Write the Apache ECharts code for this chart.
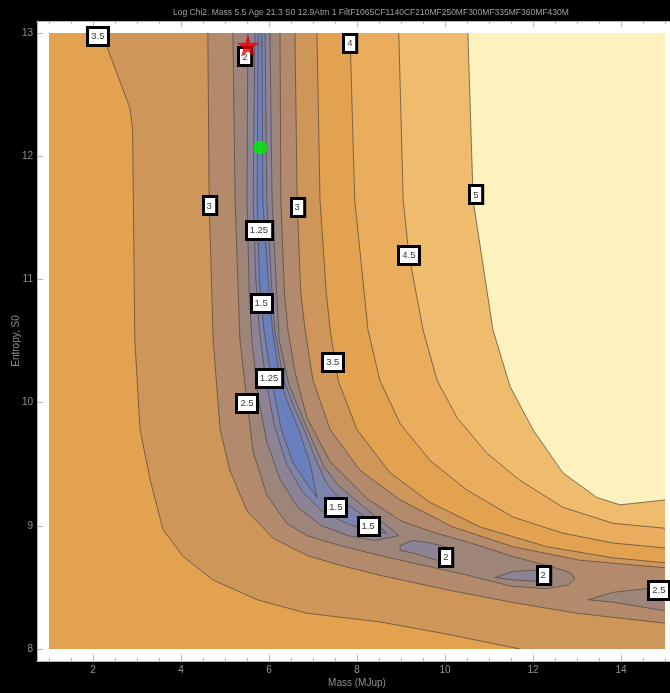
<!DOCTYPE html>
<html><head><meta charset="utf-8">
<script src="https://cdn.jsdelivr.net/npm/echarts@6/dist/echarts.min.js"></script>
<style>html,body{margin:0;padding:0;background:#000;}#c{width:670px;height:693px;}</style>
</head><body><div id="c"></div>
<script>
// ---- data ----
const xTicks = [2, 4, 6, 8, 10, 12, 14];
const yTicks = [8, 9, 10, 11, 12, 13];
const xMinor = [1, 1.5, 2.5, 3, 3.5, 4.5, 5, 5.5, 6.5, 7, 7.5, 8.5, 9, 9.5, 10.5, 11, 11.5, 12.5, 13, 13.5, 14.5, 15];
const levels = [1.25, 1.5, 2, 2.5, 3, 3.5, 4, 4.5, 5];
// band colours: <1.25, 1.25-1.5, 1.5-2, 2-2.5, 2.5-3, 3-3.5, 3.5-4, 4-4.5, 4.5-5, >5
const bandColors = ['#6a7fbe', '#7d84ab', '#8d8396', '#9d8679', '#b38b6c', '#cf9659', '#e3a250', '#e9ad5d', '#efbb6d', '#fdf1bd'];

// contour lines (Mass, Entropy)
const c5 = [[10.52,13],[10.64,11.64],[11.09,10.59],[11.48,10.13],[12.0,9.78],[12.68,9.43],[13.45,9.23],[13.98,9.17],[15,9.21]];
const c45 = [[8.95,13],[9.05,11.64],[9.18,11.2],[9.5,10.59],[9.82,10.18],[10.27,9.88],[10.95,9.59],[11.7,9.37],[12.68,9.15],[13.82,9.02],[15,8.98]];
const c4 = [[7.84,13],[7.95,11.64],[8.25,10.59],[8.52,10.18],[8.98,9.83],[9.66,9.53],[10.5,9.29],[11.55,9.07],[12.68,8.94],[13.82,8.86],[15,8.82]];
const r35 = [[7.09,13],[7.16,11.64],[7.30,10.9],[7.39,10.59],[7.57,10.18],[8.0,9.78],[8.75,9.43],[9.66,9.19],[10.8,8.99],[12.32,8.83],[13.82,8.74],[15,8.70]];
const l35 = [[2.20,13],[2.84,12.39],[2.90,12.21],[2.95,10.51],[3.07,9.78],[3.30,9.37],[3.59,8.97],[4.05,8.75],[4.73,8.56],[5.73,8.40],[6.86,8.29],[8.52,8.22],[10.05,8.12],[11.7,8.0]];
const r3 = [[6.59,13],[6.64,11.64],[6.72,10.9],[6.82,10.59],[7.0,10.18],[7.39,9.78],[8.07,9.45],[8.98,9.21],[10.18,8.99],[11.55,8.83],[13.07,8.72],[15,8.66]];
const l3 = [[4.61,13],[4.64,11.64],[4.73,10.51],[4.89,9.78],[5.11,9.45],[5.5,9.12],[6.09,8.90],[6.86,8.76],[7.61,8.68],[8.5,8.60],[10.05,8.48],[11.5,8.38],[13,8.29],[15,8.21]];
const r25 = [[6.25,13],[6.27,11.64],[6.35,10.9],[6.43,10.59],[6.59,10.25],[6.86,9.88],[7.39,9.52],[8.23,9.22],[9.0,9.04],[9.8,8.94],[10.5,8.87],[11.55,8.75],[12.4,8.67],[12.85,8.62],[12.95,8.57]];
const l25 = [[5.18,13],[5.23,11.64],[5.30,10.9],[5.34,10.51],[5.5,10.0],[5.64,9.6],[5.95,9.25],[6.4,9.02],[6.86,8.92],[7.61,8.84],[8.5,8.76],[9.5,8.68],[10.5,8.60],[11.5,8.51],[12.3,8.49],[12.8,8.52],[12.95,8.57]];
const r2 = [[6.02,13],[6.07,11.64],[6.16,11.0],[6.23,10.51],[6.45,10.15],[6.70,9.93],[6.95,9.72],[7.25,9.48],[7.6,9.32],[8.0,9.20],[8.4,9.08],[8.75,8.98],[8.95,8.92]];
const l2 = [[5.52,13],[5.50,11.64],[5.55,10.9],[5.61,10.51],[5.75,10.05],[5.95,9.68],[6.25,9.38],[6.65,9.15],[7.2,9.0],[7.8,8.92],[8.4,8.88],[8.95,8.92]];
const r15 = [[5.91,13],[5.95,11.64],[6.05,11.0],[6.13,10.59],[6.32,10.2],[6.55,9.98],[6.80,9.78],[7.05,9.55],[7.3,9.35],[7.6,9.22],[8.0,9.12],[8.4,9.02],[8.68,8.94]];
const l15 = [[5.68,13],[5.64,11.64],[5.70,11.0],[5.78,10.6],[5.92,10.2],[6.12,9.82],[6.40,9.50],[6.75,9.28],[7.2,9.12],[7.7,9.03],[8.2,8.96],[8.68,8.94]];
const r125 = [[5.84,13],[5.86,11.64],[5.98,11.0],[6.08,10.59],[6.25,10.18],[6.45,9.98],[6.68,9.78],[6.93,9.51],[7.09,9.23]];
const l125 = [[5.75,13],[5.73,11.64],[5.78,11.0],[5.88,10.6],[6.05,10.2],[6.28,9.78],[6.55,9.51],[6.85,9.35],[7.09,9.23]];
const islandA = [[8.98,8.84],[9.27,8.88],[9.66,8.86],[10.11,8.82],[10.16,8.70],[9.82,8.72],[9.27,8.78],[8.98,8.80]];
const islandB = [[11.14,8.58],[11.55,8.63],[12.09,8.64],[12.12,8.55],[11.55,8.56]];
const island25 = [[15,8.50],[14.59,8.49],[13.82,8.46],[13.25,8.40],[13.82,8.38],[15,8.31]];

// contour labels
const labelX = [2.11, 5.45, 7.84, 10.70, 4.64, 6.64, 5.77, 9.18, 5.82, 7.45, 6.0, 5.5, 7.52, 8.25, 10.02, 12.23, 14.86];
const labelY = [12.975, 12.81, 12.92, 11.69, 11.60, 11.59, 11.40, 11.20, 10.81, 10.33, 10.20, 10.0, 9.15, 9.0, 8.75, 8.60, 8.48];
const labelText = ['3.5', '2', '4', '5', '3', '3', '1.25', '4.5', '1.5', '3.5', '1.25', '2.5', '1.5', '1.5', '2', '2', '2.5'];

// best fit markers
const starPt = [5.52, 12.90];
const dotPt = [5.80, 12.07];

// ---- build ----
const rev = a => a.slice().reverse();
const below = c => [[1,13]].concat(c, [[15,8],[1,8]]);
const regions = [
  { pts: [[1,13],[15,13],[15,8],[1,8]], color: bandColors[9] },
  { pts: below(c5), color: bandColors[8] },
  { pts: below(c45), color: bandColors[7] },
  { pts: below(c4), color: bandColors[6] },
  { pts: l35.concat([[15,8]], rev(r35)), color: bandColors[5] },
  { pts: l3.concat(rev(r3)), color: bandColors[4] },
  { pts: l25.concat(rev(r25)), color: bandColors[3] },
  { pts: island25, color: bandColors[3] },
  { pts: l2.concat(rev(r2)), color: bandColors[2] },
  { pts: islandA, color: bandColors[2] },
  { pts: islandB, color: bandColors[2] },
  { pts: l15.concat(rev(r15)), color: bandColors[1] },
  { pts: l125.concat(rev(r125)), color: bandColors[0] }
];
const lines = [
  { pts: c5 }, { pts: c45 }, { pts: c4 }, { pts: r35 }, { pts: l35 }, { pts: r3 }, { pts: l3 },
  { pts: r25 }, { pts: l25 }, { pts: r2 }, { pts: l2 }, { pts: r15 }, { pts: l15 }, { pts: r125 }, { pts: l125 },
  { pts: islandA.concat([islandA[0]]) }, { pts: islandB.concat([islandB[0]]) }, { pts: island25 }
];

const FONT = 'Liberation Sans, Arial, sans-serif';
const axisGrey = '#b4b4b4';
const textGrey = '#8f8f8f';
const STAR = 'path://M50,0 L61,35 L98,35 L68,57 L79,91 L50,70 L21,91 L32,57 L2,35 L39,35 Z';

function frameAxis(pos, ticks, minor, withLabel, extra) {
  return Object.assign({
    type: 'value', position: pos,
    axisLine: { show: true, onZero: false, lineStyle: { color: axisGrey, width: 1 } },
    axisTick: { show: true, inside: true, length: minor ? 3 : 6, customValues: ticks, lineStyle: { color: axisGrey } },
    axisLabel: withLabel ? { show: true, customValues: ticks, color: textGrey, fontSize: 10, fontFamily: FONT, margin: 4 } : { show: false },
    splitLine: { show: false }
  }, extra);
}
function textWidth(t) {
  let w = 0;
  for (const ch of t) w += (ch === '.') ? 2.6 : 5.2;
  return w;
}

const X0 = 0.7273, X1 = 15.2727, Y0 = 7.9026, Y1 = 13.0974;
const chart = echarts.init(document.getElementById('c'));
chart.setOption({
  backgroundColor: '#000',
  animation: false,
  title: {
    text: 'Log Chi2. Mass 5.5 Age 21.3 S0 12.9Atm 1 FiltF1065CF1140CF210MF250MF300MF335MF360MF430M',
    left: 168, top: 3,
    textStyle: { color: '#a0a0a0', fontSize: 8.5, fontWeight: 'normal', fontFamily: FONT }
  },
  grid: { left: 37, top: 21, width: 640, height: 640, show: true, backgroundColor: '#fff', borderWidth: 0,
    containLabel: false, outerBoundsMode: 'none' },
  xAxis: [
    frameAxis('bottom', xTicks, false, true, { min: X0, max: X1, name: 'Mass (MJup)', nameLocation: 'middle', nameGap: 17,
      nameMoveOverlap: false, nameTextStyle: { color: textGrey, fontSize: 10, fontFamily: FONT } }),
    frameAxis('top', xTicks, false, false, { min: X0, max: X1 }),
    frameAxis('bottom', xMinor, true, false, { min: X0, max: X1, axisLine: { show: false } }),
    frameAxis('top', xMinor, true, false, { min: X0, max: X1, axisLine: { show: false } })
  ],
  yAxis: [
    frameAxis('left', yTicks, false, true, { min: Y0, max: Y1, name: 'Entropy, S0', nameLocation: 'middle', nameGap: 16,
      nameMoveOverlap: false, nameTextStyle: { color: textGrey, fontSize: 10, fontFamily: FONT } }),
    frameAxis('right', yTicks, false, false, { min: Y0, max: Y1 })
  ],
  series: [
    {
      type: 'custom', xAxisIndex: 0, yAxisIndex: 0, z: 1, silent: true,
      data: regions.map((r, i) => [i]),
      renderItem: (params, api) => {
        const r = regions[params.dataIndex];
        return { type: 'polygon', shape: { points: r.pts.map(p => api.coord(p)) }, style: { fill: r.color, stroke: null } };
      }
    },
    {
      type: 'custom', xAxisIndex: 0, yAxisIndex: 0, z: 2, silent: true,
      data: lines.map((r, i) => [i]),
      renderItem: (params, api) => {
        const r = lines[params.dataIndex];
        return { type: 'polyline', shape: { points: r.pts.map(p => api.coord(p)) }, style: { fill: null, stroke: '#54473a', lineWidth: 0.8, opacity: 0.9 } };
      }
    },
    {
      type: 'custom', xAxisIndex: 0, yAxisIndex: 0, z: 3, silent: true,
      data: labelText.map((t, i) => [labelX[i], labelY[i]]),
      renderItem: (params, api) => {
        const t = labelText[params.dataIndex];
        const c = api.coord([api.value(0), api.value(1)]);
        const w = textWidth(t) + 8, h = 18;
        return { type: 'group', children: [
          { type: 'rect', shape: { x: Math.round(c[0] - w / 2) + 0.5, y: Math.round(c[1] - h / 2) + 0.5, width: w, height: h },
            style: { fill: '#fff', stroke: '#000', lineWidth: 3 } },
          { type: 'text', style: { text: t, x: c[0], y: c[1] + 0.5, align: 'center', verticalAlign: 'middle',
            fill: '#3a3a3a', font: '9.5px ' + FONT } }
        ] };
      }
    },
    {
      type: 'scatter', xAxisIndex: 0, yAxisIndex: 0, z: 4, silent: true, symbol: 'circle', symbolSize: 14,
      itemStyle: { color: '#00f000' }, data: [dotPt]
    },
    {
      type: 'scatter', xAxisIndex: 0, yAxisIndex: 0, z: 4, silent: true, symbol: STAR, symbolSize: 23,
      itemStyle: { color: '#f00000' }, data: [starPt]
    }
  ]
});
</script></body></html>
